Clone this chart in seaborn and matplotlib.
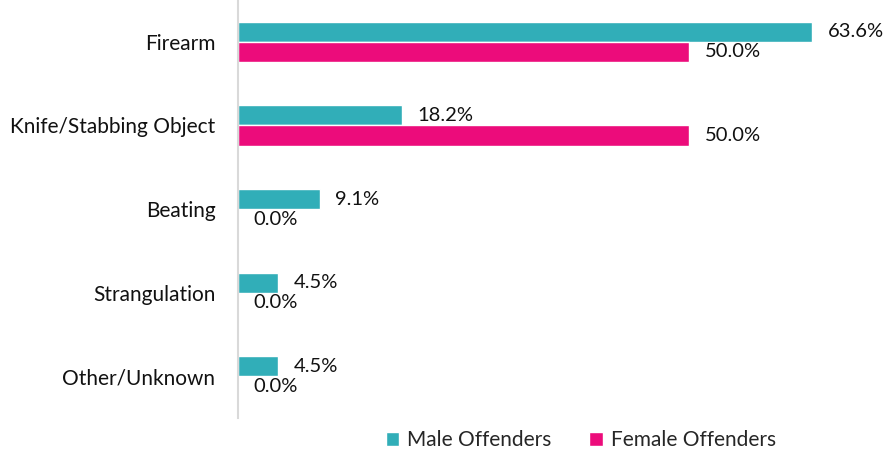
import seaborn as sns
import matplotlib.pyplot as plt
import pandas as pd

# data
categories = ['Firearm', 'Knife/Stabbing Object', 'Beating', 'Strangulation', 'Other/Unknown']
male_pct = [63.6, 18.2, 9.1, 4.5, 4.5]
female_pct = [50.0, 50.0, 0.0, 0.0, 0.0]
series = ['Male Offenders', 'Female Offenders']
colors = ['#31AEB8', '#EC0C7B']

df = pd.DataFrame({
    'method': categories * 2,
    'pct': male_pct + female_pct,
    'group': [series[0]] * len(categories) + [series[1]] * len(categories),
})

sns.set_style('white')
plt.rcParams['font.family'] = ['Lato', 'DejaVu Sans']

fig = plt.figure(figsize=(8.87, 4.53), dpi=100)
ax = fig.add_axes([0.268, 0.077, 0.713, 0.923])

sns.barplot(data=df, y='method', x='pct', hue='group', orient='h',
            palette=colors, width=0.48, ax=ax, legend=True, saturation=1)

for cont in ax.containers:
    ax.bar_label(cont, labels=[f'{v:.1f}%' for v in cont.datavalues],
                 padding=11, fontsize=14.5, color='#111111')

ax.set_xlim(0, 70)
ax.set_ylim(4.5, -0.5)
ax.set_xlabel('')
ax.set_ylabel('')
ax.set_xticks([])
ax.tick_params(axis='y', length=0, labelsize=15, colors='#111111', pad=16)

for side in ['top', 'right', 'bottom']:
    ax.spines[side].set_visible(False)
ax.spines['left'].set_color('#D9D9D9')
ax.spines['left'].set_linewidth(1.5)

handles, labels = ax.get_legend_handles_labels()
ax.get_legend().remove()
fig.legend(handles, labels, loc='center', bbox_to_anchor=(0.655, 0.028), ncol=2,
           frameon=False, fontsize=15, handlelength=0.65, handleheight=0.65,
           handletextpad=0.4, columnspacing=1.8)

plt.savefig('out.png', dpi=100)
